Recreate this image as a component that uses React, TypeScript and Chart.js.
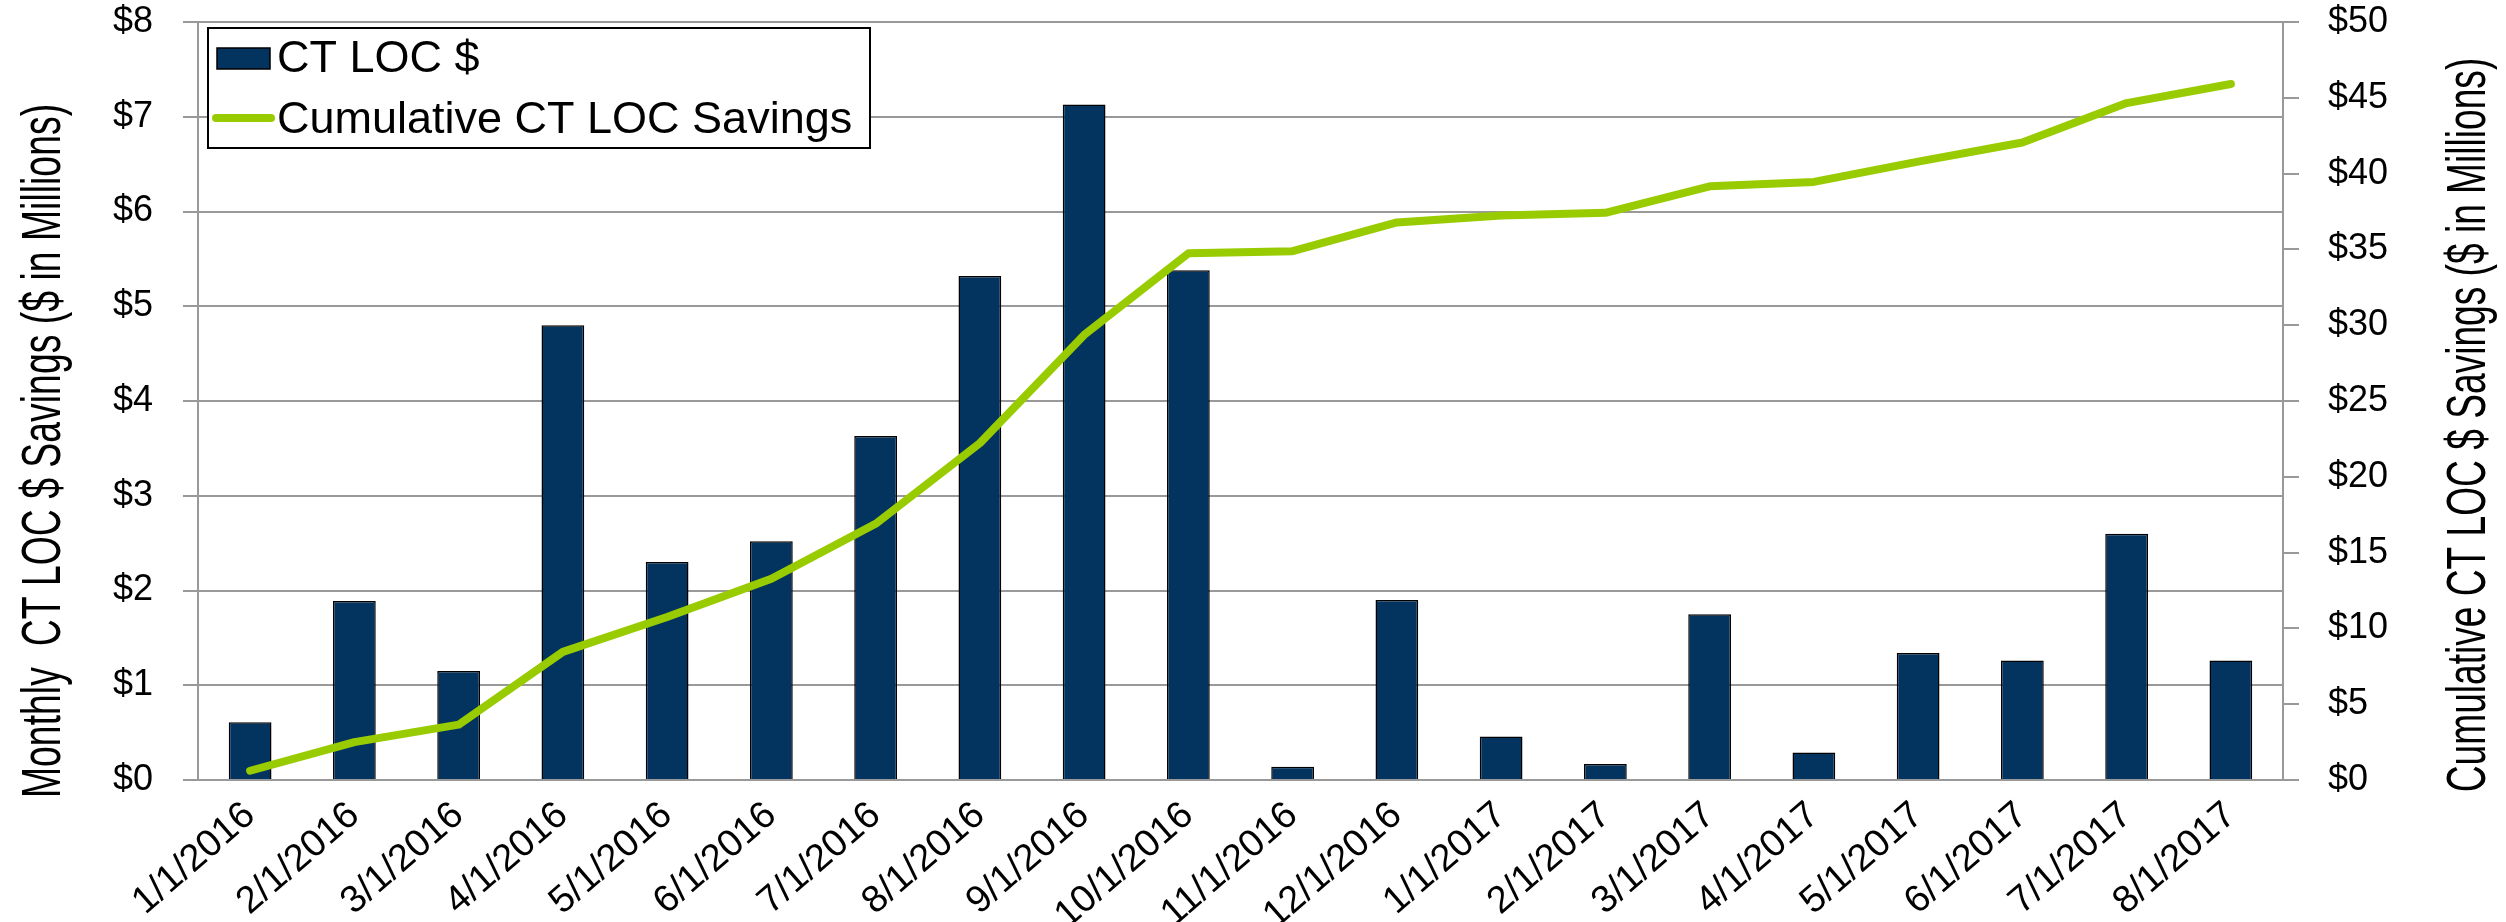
import React, { useEffect, useRef } from 'react';
import { Chart, registerables } from 'chart.js';

Chart.register(...registerables);

const categories = [
  '1/1/2016', '2/1/2016', '3/1/2016', '4/1/2016', '5/1/2016', '6/1/2016', '7/1/2016',
  '8/1/2016', '9/1/2016', '10/1/2016', '11/1/2016', '12/1/2016', '1/1/2017', '2/1/2017',
  '3/1/2017', '4/1/2017', '5/1/2017', '6/1/2017', '7/1/2017', '8/1/2017',
];
const monthlySavings = [
  0.61, 1.89, 1.15, 4.8, 2.3, 2.52, 3.63, 5.32, 7.13, 5.38,
  0.14, 1.9, 0.46, 0.17, 1.75, 0.29, 1.34, 1.26, 2.6, 1.26,
];
const cumulativeSavings = [
  0.61, 2.5, 3.65, 8.45, 10.75, 13.27, 16.9, 22.22, 29.36, 34.74,
  34.88, 36.78, 37.24, 37.41, 39.16, 39.45, 40.79, 42.05, 44.65, 45.91,
];
const barLabel = 'CT LOC $';
const lineLabel = 'Cumulative CT LOC Savings';
const leftTitle = 'Monthly  CT LOC $ Savings ($ in Millions)';
const rightTitle = 'Cumulative CT LOC $ Savings ($ in Millions)';

const BAR_COLOR = '#03335F';
const LINE_COLOR = '#99CC00';
const GRID_COLOR = '#999999';
const FONT = '"Liberation Sans", Arial, Helvetica, sans-serif';

const decorPlugin = {
  id: 'decor',
  afterDraw(chart: any) {
    const ctx = chart.ctx as CanvasRenderingContext2D;
    ctx.save();
    ctx.fillStyle = '#000';
    ctx.textAlign = 'center';
    ctx.textBaseline = 'alphabetic';
    ctx.font = `55px ${FONT}`;
    // left axis title
    ctx.save();
    ctx.translate(60, 451);
    ctx.rotate(-Math.PI / 2);
    ctx.scale(0.68, 1);
    ctx.fillText(leftTitle, 0, 0);
    ctx.restore();
    // right axis title
    ctx.save();
    ctx.translate(2485, 425);
    ctx.rotate(-Math.PI / 2);
    ctx.scale(0.675, 1);
    ctx.fillText(rightTitle, 0, 0);
    ctx.restore();

    // legend
    const lx = 208, ly = 28, lw = 662, lh = 120;
    ctx.fillStyle = '#fff';
    ctx.fillRect(lx, ly, lw, lh);
    ctx.strokeStyle = '#000';
    ctx.lineWidth = 2;
    ctx.strokeRect(lx, ly, lw, lh);
    ctx.fillStyle = BAR_COLOR;
    ctx.fillRect(217, 48, 53, 21);
    ctx.lineWidth = 1.5;
    ctx.strokeRect(217, 48, 53, 21);
    ctx.strokeStyle = LINE_COLOR;
    ctx.lineWidth = 8;
    ctx.lineCap = 'round';
    ctx.beginPath();
    ctx.moveTo(216, 118);
    ctx.lineTo(271, 118);
    ctx.stroke();
    ctx.fillStyle = '#000';
    ctx.textAlign = 'left';
    ctx.font = `45px ${FONT}`;
    ctx.fillText(barLabel, 277, 72);
    ctx.fillText(lineLabel, 277, 133);
    ctx.restore();
  },
};

export default function App() {
  const canvasRef = useRef<HTMLCanvasElement | null>(null);

  useEffect(() => {
    document.body.style.margin = '0';
    const canvas = canvasRef.current;
    if (!canvas) return;
    const chart = new Chart(canvas, {
      type: 'bar',
      data: {
        labels: categories,
        datasets: [
          {
            type: 'line',
            label: lineLabel,
            data: cumulativeSavings,
            yAxisID: 'y1',
            borderColor: LINE_COLOR,
            backgroundColor: LINE_COLOR,
            borderWidth: 8,
            pointRadius: 0,
            tension: 0,
            borderCapStyle: 'round',
            borderJoinStyle: 'round',
            order: 0,
          } as any,
          {
            type: 'bar',
            label: barLabel,
            data: monthlySavings,
            yAxisID: 'y',
            backgroundColor: BAR_COLOR,
            borderColor: '#000',
            borderWidth: 1.5,
            barPercentage: 0.41,
            categoryPercentage: 1.0,
            order: 1,
          } as any,
        ],
      },
      options: {
        animation: false,
        responsive: true,
        maintainAspectRatio: false,
        layout: { padding: { top: 22, left: 0, right: 0, bottom: 0 } },
        plugins: {
          legend: { display: false },
          tooltip: { enabled: false },
          title: { display: false },
        },
        scales: {
          x: {
            offset: true,
            grid: { display: false, drawTicks: false },
            border: { display: false },
            ticks: {
              autoSkip: false,
              maxRotation: 41,
              minRotation: 41,
              padding: 13,
              color: '#000',
              font: { family: FONT, size: 38 },
            },
            afterFit: (s: any) => {
              s.height = 142;
              s.paddingLeft = 0;
              s.paddingRight = 0;
            },
          },
          y: {
            position: 'left',
            min: 0,
            max: 8,
            grid: { color: GRID_COLOR, lineWidth: 2, tickLength: 15, drawTicks: true },
            border: { display: true, color: GRID_COLOR, width: 2 },
            ticks: {
              stepSize: 1,
              padding: 30,
              color: '#000',
              font: { family: FONT, size: 36 },
              callback: (v: any) => '$' + v,
            },
            afterFit: (s: any) => {
              s.width = 198;
              s.paddingTop = 0;
              s.paddingBottom = 0;
            },
          },
          y1: {
            position: 'right',
            min: 0,
            max: 50,
            grid: { drawOnChartArea: false, color: GRID_COLOR, lineWidth: 2, tickLength: 16, drawTicks: true },
            border: { display: true, color: GRID_COLOR, width: 2 },
            ticks: {
              stepSize: 5,
              padding: 29,
              color: '#000',
              font: { family: FONT, size: 36 },
              callback: (v: any) => '$' + v,
            },
            afterFit: (s: any) => {
              s.width = 223;
              s.paddingTop = 0;
              s.paddingBottom = 0;
            },
          },
        },
      },
      plugins: [decorPlugin],
    });
    return () => chart.destroy();
  }, []);

  return (
    <div style={{ width: '2506px', height: '922px', position: 'relative' }}>
      <canvas ref={canvasRef} />
    </div>
  );
}
